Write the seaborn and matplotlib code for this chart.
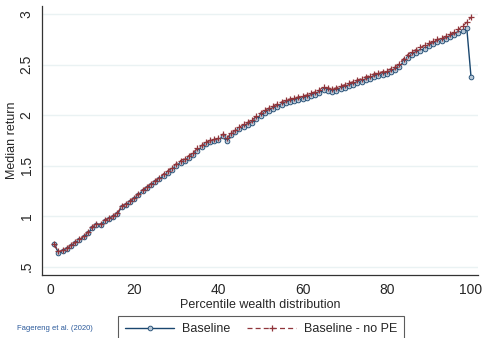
import numpy as np
import pandas as pd
import seaborn as sns
import matplotlib.pyplot as plt

# Data (percentile 1..100)
percentile = list(range(1, 101))

baseline = [
    0.72, 0.64, 0.65, 0.67, 0.70, 0.73, 0.76, 0.79, 0.83, 0.88,
    0.91, 0.91, 0.95, 0.97, 0.99, 1.02, 1.09, 1.11, 1.14, 1.17,
    1.21, 1.25, 1.28, 1.31, 1.34, 1.37, 1.40, 1.43, 1.46, 1.50,
    1.53, 1.55, 1.58, 1.61, 1.65, 1.68, 1.71, 1.73, 1.74, 1.75,
    1.79, 1.74, 1.80, 1.83, 1.86, 1.88, 1.90, 1.92, 1.96, 1.99,
    2.02, 2.04, 2.06, 2.08, 2.10, 2.12, 2.13, 2.14, 2.15, 2.16,
    2.17, 2.19, 2.20, 2.22, 2.25, 2.24, 2.23, 2.24, 2.26, 2.27,
    2.29, 2.30, 2.32, 2.33, 2.35, 2.36, 2.38, 2.39, 2.40, 2.41,
    2.43, 2.45, 2.48, 2.53, 2.57, 2.60, 2.62, 2.64, 2.66, 2.68,
    2.70, 2.72, 2.73, 2.75, 2.77, 2.79, 2.81, 2.83, 2.86, 2.38,
]

baseline_no_pe = [
    0.72, 0.65, 0.66, 0.68, 0.71, 0.74, 0.77, 0.80, 0.84, 0.89,
    0.92, 0.92, 0.96, 0.98, 1.00, 1.03, 1.10, 1.12, 1.15, 1.18,
    1.22, 1.26, 1.29, 1.32, 1.35, 1.38, 1.42, 1.45, 1.48, 1.52,
    1.55, 1.57, 1.60, 1.63, 1.67, 1.70, 1.73, 1.75, 1.76, 1.77,
    1.81, 1.77, 1.82, 1.85, 1.88, 1.91, 1.93, 1.95, 1.99, 2.02,
    2.05, 2.07, 2.09, 2.11, 2.13, 2.15, 2.16, 2.17, 2.18, 2.19,
    2.20, 2.22, 2.23, 2.25, 2.28, 2.27, 2.26, 2.27, 2.29, 2.30,
    2.32, 2.33, 2.35, 2.36, 2.38, 2.39, 2.41, 2.42, 2.43, 2.44,
    2.46, 2.48, 2.51, 2.56, 2.60, 2.63, 2.65, 2.67, 2.69, 2.71,
    2.73, 2.75, 2.76, 2.78, 2.80, 2.82, 2.85, 2.88, 2.92, 2.97,
]

y_ticks = [0.5, 1, 1.5, 2, 2.5, 3]
y_tick_labels = [".5", "1", "1.5", "2", "2.5", "3"]
x_ticks = [0, 20, 40, 60, 80, 100]

navy = "#1a476f"
maroon = "#90353b"

sns.set_style("white")
plt.rcParams["font.family"] = ["Liberation Sans", "DejaVu Sans"]

fig = plt.figure(figsize=(4.83, 3.38), dpi=100)
ax = fig.add_axes([0.087, 0.186, 0.903, 0.796])

df = pd.DataFrame({"p": percentile, "base": baseline, "nope": baseline_no_pe})

sns.lineplot(data=df, x="p", y="base", ax=ax, color=navy, linewidth=1.0,
             marker="o", markersize=3.4, markerfacecolor="#b7c7d6",
             markeredgecolor=navy, markeredgewidth=0.6, label="Baseline")
sns.lineplot(data=df, x="p", y="nope", ax=ax, color=maroon, linewidth=0.9,
             linestyle=(0, (4, 2.5)), marker="+", markersize=5, markeredgewidth=0.9,
             markeredgecolor=maroon, label="Baseline - no PE")

ax.set_xlim(-1.9, 101.7)
ax.set_ylim(0.416, 3.08)
ax.set_yticks(y_ticks)
ax.set_yticklabels(y_tick_labels, rotation=90, va="center")
ax.set_xticks(x_ticks)
ax.tick_params(axis="both", direction="out", length=4, width=0.8,
               labelsize=10, color="#333333", pad=2)
ax.yaxis.grid(True, color="#eaf2f3", linewidth=1.0)
ax.xaxis.grid(False)
for side in ["top", "right"]:
    ax.spines[side].set_visible(False)
for side in ["left", "bottom"]:
    ax.spines[side].set_color("#333333")
    ax.spines[side].set_linewidth(0.9)

ax.set_xlabel("Percentile wealth distribution", fontsize=9, labelpad=1)
ax.set_ylabel("Median return", fontsize=9, labelpad=1)

ax.get_legend().remove()
handles, labels = ax.get_legend_handles_labels()
leg = fig.legend(handles, labels, loc="upper left", bbox_to_anchor=(0.244, 0.066),
                 ncol=2, frameon=True, fancybox=False, edgecolor="#333333",
                 fontsize=9, handlelength=3.9, columnspacing=1.4,
                 borderpad=0.6, handletextpad=0.6, borderaxespad=0)
leg.get_frame().set_linewidth(0.8)

fig.text(0.035, 0.028, "Fagereng et al. (2020)", fontsize=5.5, color="#2b5a9b",
         va="center", ha="left")

fig.savefig("out.png", dpi=100)
